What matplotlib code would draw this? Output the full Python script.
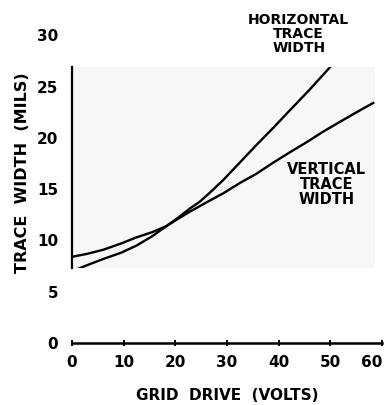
import numpy as np
import matplotlib.pyplot as plt
from matplotlib.patches import Rectangle

# --------------------------------------------------------------------------------------------------------------------
# Data:
# --------------------------------------------------------------------------------------------------------------------
volts_h = [0, 3, 6.1, 9.5, 12.5, 15.5, 18.3, 20.5, 22.8, 24.8, 27, 29.3, 32.5, 35.7, 39, 42.2, 46, 49.6, 51]
horizontal_width = [7.0, 7.6, 8.2, 8.8, 9.5, 10.4, 11.4, 12.2, 13.1, 13.8, 14.8, 15.9, 17.6, 19.3, 21.0, 22.7,
                    24.7, 26.7, 27.5]

volts_v = [0, 3, 6.1, 9.5, 12.5, 15.5, 18.3, 20.5, 22.8, 26, 29.3, 32.5, 35.7, 39, 42.2, 45.5, 48.6, 52, 55.1, 58.3]
vertical_width = [8.4, 8.7, 9.1, 9.7, 10.3, 10.8, 11.4, 12.1, 12.8, 13.7, 14.6, 15.6, 16.5, 17.6, 18.6, 19.6,
                  20.6, 21.6, 22.5, 23.4]

x_ticks = [0, 10, 20, 30, 40, 50, 60]
y_ticks = [0, 5, 10, 15, 20, 25, 30]

# --------------------------------------------------------------------------------------------------------------------
# Plot:
# --------------------------------------------------------------------------------------------------------------------
plt.rcParams['font.family'] = 'DejaVu Sans'
plt.rcParams['font.weight'] = 'bold'

fig = plt.figure(figsize=(3.91, 4.05), dpi=100)
ax = fig.add_axes([0.184, 0.153, 0.793, 0.760])
ax.set_xlim(0, 60)
ax.set_ylim(0, 30)
ax.patch.set_visible(False)

# faint panel behind the curves (scan artefact)
panel = Rectangle((0, 7.3), 58.6, 19.6, facecolor='#f7f7f7', edgecolor='none', zorder=0)
ax.add_patch(panel)

l1, = ax.plot(volts_h, horizontal_width, color='black', lw=1.7, zorder=2, solid_joinstyle='round')
l2, = ax.plot(volts_v, vertical_width, color='black', lw=1.7, zorder=2, solid_joinstyle='round')
l1.set_clip_path(panel)
l2.set_clip_path(panel)

# axes
for s in ['top', 'right']:
    ax.spines[s].set_visible(False)
ax.spines['left'].set_bounds(7.3, 26.9)
ax.spines['left'].set_linewidth(1.6)
ax.spines['bottom'].set_bounds(0, 60)
ax.spines['bottom'].set_linewidth(1.8)

ax.set_xticks(x_ticks)
ax.set_yticks(y_ticks)
ax.tick_params(axis='y', direction='out', length=4, width=1.4, pad=6, labelsize=11)
ax.tick_params(axis='x', direction='inout', length=5, width=1.4, pad=6, labelsize=11)
for t in ax.yaxis.get_major_ticks():
    if t.get_loc() in (0, 5, 30):
        t.tick1line.set_visible(False)
for t in ax.xaxis.get_major_ticks():
    if t.get_loc() not in (0, 60):
        t.tick1line.set_markersize(2)
for lab in ax.get_xticklabels() + ax.get_yticklabels():
    lab.set_fontweight('bold')
ax.get_xticklabels()[-1].set_horizontalalignment('right')
ax.get_xticklabels()[-1].set_x(61.5)

ax.set_xlabel('GRID  DRIVE  (VOLTS)', fontsize=11, fontweight='bold', labelpad=13)
ax.set_ylabel('TRACE  WIDTH  (MILS)', fontsize=11.5, fontweight='bold')
ax.yaxis.set_label_coords(-0.135, 0.555)

ax.text(43.9, 30.1, 'HORIZONTAL\nTRACE\nWIDTH', ha='center', va='center', fontsize=10,
        fontweight='bold', linespacing=1.0)
ax.text(49.3, 15.5, 'VERTICAL\nTRACE\nWIDTH', ha='center', va='center', fontsize=10.5,
        fontweight='bold', linespacing=1.0)

fig.savefig('out.png', dpi=100)
